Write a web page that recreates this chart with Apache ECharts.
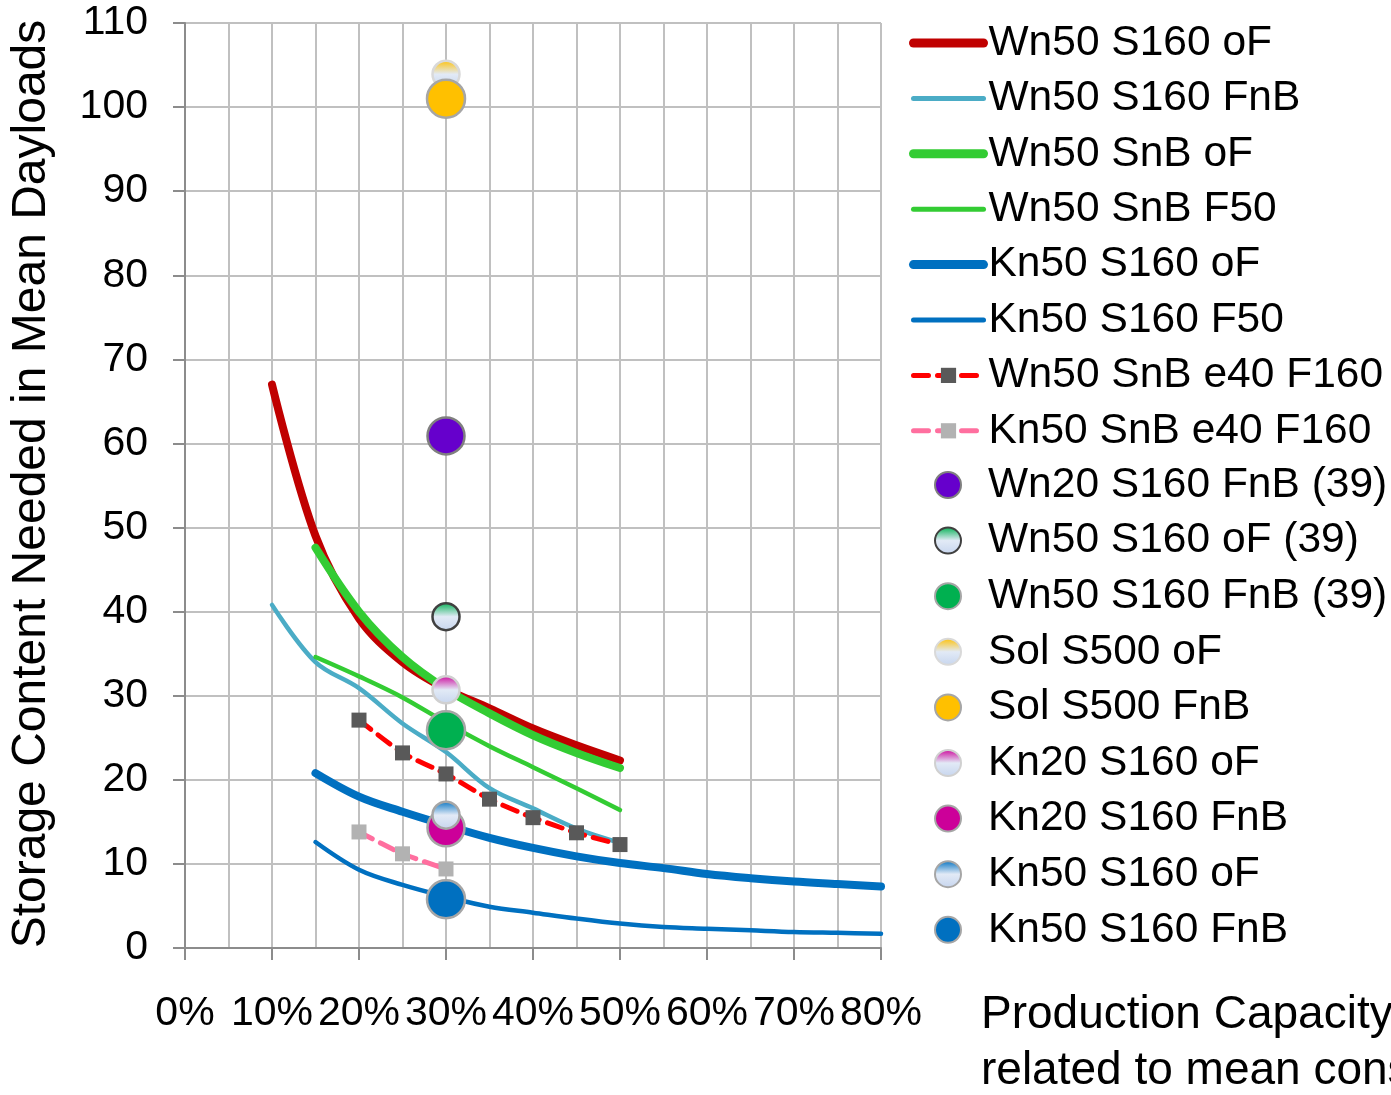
<!DOCTYPE html>
<html>
<head>
<meta charset="utf-8">
<script src="https://cdn.jsdelivr.net/npm/echarts@6/dist/echarts.min.js"></script>
<style>
html,body{margin:0;padding:0;background:#fff;}
#chart{width:1391px;height:1095px;}
</style>
</head>
<body>
<div id="chart"></div>
<script>
// ---- Data (x in % production capacity, y in mean dayloads) ----
const xTicks = [0, 10, 20, 30, 40, 50, 60, 70, 80];
const yTicks = [0, 10, 20, 30, 40, 50, 60, 70, 80, 90, 100, 110];

const xA = [10, 15, 20, 25, 30, 35, 40, 45, 50];
const xB = [15, 20, 25, 30, 35, 40, 45, 50];
const xC = [15, 20, 25, 30, 35, 40, 45, 50, 55, 60, 65, 70, 75, 80];
const xD = [20, 25, 30, 35, 40, 45, 50];
const xE = [20, 25, 30];

const wn50S160oF  = [67.0, 49.0, 39.2, 34.0, 30.8, 28.5, 26.1, 24.1, 22.3];
const wn50S160FnB = [40.8, 34.0, 30.9, 26.7, 23.3, 19.0, 16.6, 14.2, 12.5];
const wn50SnBoF   = [47.6, 40.0, 34.6, 30.8, 27.9, 25.3, 23.2, 21.4];
const wn50SnBF50  = [34.6, 32.3, 29.8, 26.8, 24.0, 21.5, 19.0, 16.4];
const kn50S160oF  = [20.8, 18.0, 16.2, 14.6, 13.1, 11.9, 10.9, 10.1, 9.5, 8.8, 8.3, 7.9, 7.6, 7.3];
const kn50S160F50 = [12.6, 9.3, 7.5, 6.1, 4.9, 4.2, 3.5, 2.9, 2.5, 2.3, 2.1, 1.9, 1.8, 1.7];
const wn50SnBe40F160 = [27.1, 23.2, 20.7, 17.7, 15.5, 13.7, 12.3];
const kn50SnBe40F160 = [13.8, 11.2, 9.4];

const pointX = 30;
// the last-but-one name carries a trailing space so it does not collide with the line series of the same label
const pointNames = ['Wn20 S160 FnB (39)', 'Wn50 S160 oF (39)', 'Wn50 S160 FnB (39)', 'Sol S500 oF', 'Sol S500 FnB',
                    'Kn20 S160 oF', 'Kn20 S160 FnB', 'Kn50 S160 oF ', 'Kn50 S160 FnB'];
const pointValues = [60.9, 39.4, 25.9, 103.9, 101.0, 30.7, 14.3, 15.8, 5.8];

const lineNames = ['Wn50 S160 oF', 'Wn50 S160 FnB', 'Wn50 SnB oF', 'Wn50 SnB F50', 'Kn50 S160 oF', 'Kn50 S160 F50',
                   'Wn50 SnB e40 F160', 'Kn50 SnB e40 F160'];

// ---- helpers ----
const zip = (xs, ys) => ys.map((y, i) => [xs[i], y]);
const FONT = '"Liberation Sans", Arial, sans-serif';
const LIGHT_BLUE = '#c6d5ee';
function grad(top) {
  return {type: 'linear', x: 0, y: 0, x2: 0, y2: 1,
    colorStops: [{offset: 0, color: top}, {offset: 0.5, color: '#e2eaf6'}, {offset: 1, color: LIGHT_BLUE}]};
}

function lineSeries(name, xs, ys, color, width) {
  return {
    name: name, type: 'line', data: zip(xs, ys), smooth: 0.35,
    symbol: 'none', lineStyle: {color: color, width: width, cap: 'round', join: 'round'},
    itemStyle: {color: color}, emphasis: {disabled: true}, animation: false, z: 2
  };
}
function dashSeries(name, xs, ys, color, markColor) {
  return {
    name: name, type: 'line', data: zip(xs, ys), smooth: 0.2,
    symbol: 'rect', symbolSize: 15, showSymbol: true,
    lineStyle: {color: color, width: 5, type: [15, 9], cap: 'round'},
    itemStyle: {color: markColor, borderWidth: 0},
    emphasis: {disabled: true}, animation: false, z: 3
  };
}
function pointSeries(idx, fill, border, borderW, size) {
  return {
    name: pointNames[idx], type: 'scatter', data: [[pointX, pointValues[idx]]],
    symbol: 'circle', symbolSize: size,
    itemStyle: {color: fill, borderColor: border, borderWidth: borderW, opacity: 1},
    emphasis: {disabled: true}, animation: false, z: 4
  };
}

const series = [
  lineSeries(lineNames[0], xA, wn50S160oF, '#c00000', 8),
  lineSeries(lineNames[1], xA, wn50S160FnB, '#4bacc6', 4.5),
  lineSeries(lineNames[2], xB, wn50SnBoF, '#33cc33', 8),
  lineSeries(lineNames[3], xB, wn50SnBF50, '#33cc33', 4.5),
  lineSeries(lineNames[4], xC, kn50S160oF, '#0070c0', 8),
  lineSeries(lineNames[5], xC, kn50S160F50, '#0070c0', 4.5),
  dashSeries(lineNames[6], xD, wn50SnBe40F160, '#ff0000', '#595959'),
  dashSeries(lineNames[7], xE, kn50SnBe40F160, '#ff6f9f', '#b2b2b2'),
  pointSeries(0, '#6600cc', '#7f7f7f', 2.5, 37),
  pointSeries(1, grad('#00b050'), '#404040', 2.5, 27),
  pointSeries(2, '#00b050', '#a6a6a6', 2.5, 38),
  pointSeries(3, grad('#ffc000'), '#d9d9d9', 2.5, 27),
  pointSeries(4, '#ffc000', '#a6a6a6', 2.5, 38),
  pointSeries(5, grad('#cc0099'), '#d0d0d0', 2.5, 27),
  pointSeries(6, '#cc0099', '#a6a6a6', 2.5, 37),
  pointSeries(7, grad('#0070c0'), '#a6a6a6', 2.5, 27),
  pointSeries(8, '#0070c0', '#a6a6a6', 2.5, 38)
];

// legend entries for the line series: thick/thin line icons, no symbol for the plain lines
const legendLineWidths = [9, 5, 9, 5, 9, 5, 5, 5];
const lineLegendData = lineNames.map((n, i) => i < 6
  ? {name: n, lineStyle: {width: legendLineWidths[i], cap: 'round'}, itemStyle: {opacity: 0}}
  : {name: n, lineStyle: {width: legendLineWidths[i], cap: 'round'}});

const legendText = {fontSize: 42.5, lineHeight: 46, color: '#000', fontFamily: FONT, width: 360, overflow: 'none'};

const chart = echarts.init(document.getElementById('chart'), null, {renderer: 'canvas'});
chart.setOption({
  backgroundColor: '#ffffff',
  animation: false,
  grid: {left: 185, top: 23, right: 510, bottom: 147, containLabel: false},
  xAxis: {
    type: 'value', min: xTicks[0], max: xTicks[xTicks.length - 1], interval: 10,
    axisLine: {show: true, lineStyle: {color: '#8c8c8c', width: 2}},
    axisTick: {show: true, length: 12, lineStyle: {color: '#8c8c8c', width: 2}},
    minorTick: {show: false, splitNumber: 2},
    splitLine: {show: true, lineStyle: {color: '#c0c0c0', width: 2}},
    minorSplitLine: {show: true, lineStyle: {color: '#c0c0c0', width: 2}},
    axisLabel: {formatter: '{value}%', fontSize: 41, color: '#000', fontFamily: FONT, margin: 45}
  },
  yAxis: {
    type: 'value', min: yTicks[0], max: yTicks[yTicks.length - 1], interval: 10,
    axisLine: {show: true, lineStyle: {color: '#8c8c8c', width: 2}},
    axisTick: {show: true, length: 12, lineStyle: {color: '#8c8c8c', width: 2}},
    splitLine: {show: true, lineStyle: {color: '#c0c0c0', width: 2}},
    axisLabel: {fontSize: 41, color: '#000', fontFamily: FONT, margin: 37}
  },
  legend: [
    {
      data: lineLegendData, orient: 'vertical', left: 904, top: 15, padding: 5, align: 'left',
      itemWidth: 70, itemHeight: 19, itemGap: 9.4,
      textStyle: legendText, selectedMode: false
    },
    {
      data: pointNames, orient: 'vertical', left: 929, top: 457, padding: 5, align: 'left',
      itemWidth: 70, itemHeight: 26, itemGap: 9.6,
      textStyle: legendText, selectedMode: false
    }
  ],
  graphic: [
    {
      type: 'text', x: 32, y: 484, rotation: Math.PI / 2,
      style: {text: 'Storage Content Needed in Mean Dayloads', font: '48px ' + FONT, fill: '#000',
              align: 'center', verticalAlign: 'middle'}
    },
    {
      type: 'text', x: 981, y: 1043,
      style: {text: 'Production Capacity\nrelated to mean consumption', font: '46px ' + FONT, fill: '#000',
              align: 'left', verticalAlign: 'middle', lineHeight: 56}
    }
  ],
  series: series
});
</script>
</body>
</html>
